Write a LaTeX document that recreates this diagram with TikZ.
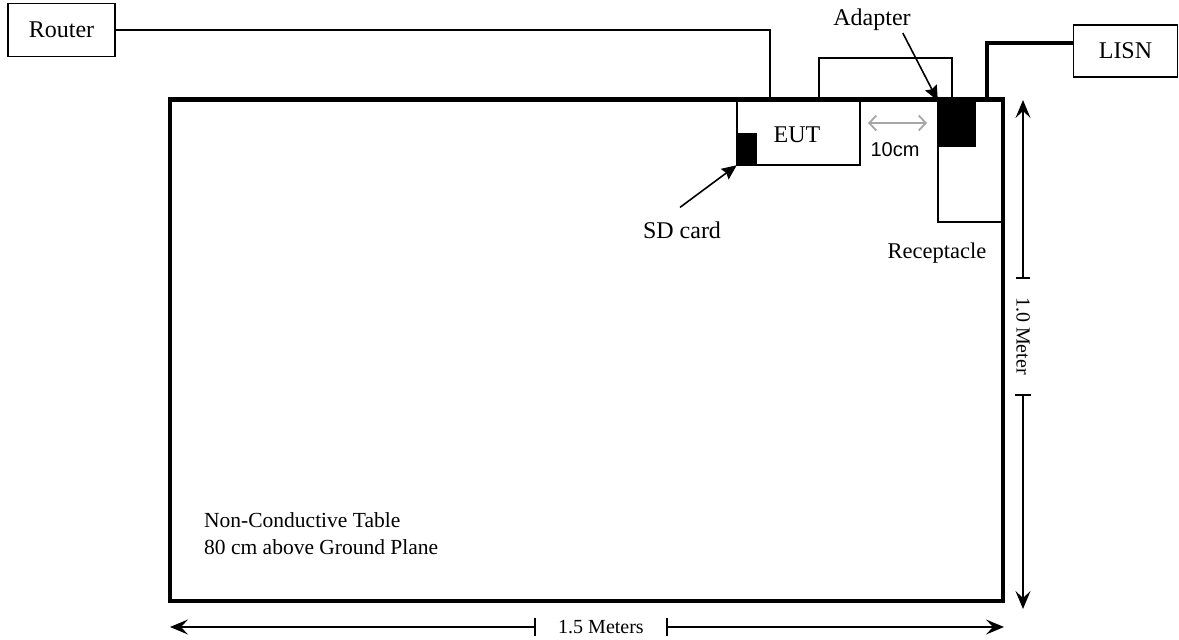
\documentclass[tikz,border=0pt]{standalone}
\usepackage{fontspec}
\setmainfont{Liberation Serif}
\newfontfamily\arialfont{Liberation Sans}
\usetikzlibrary{arrows.meta,calc}
\tikzset{
  box/.style={draw, line width=1.4pt, inner sep=0pt},
  wire/.style={line width=1.4pt},
  thickwire/.style={line width=3.5pt},
  lbl/.style={inner sep=0pt, font=\fontsize{24}{26}\selectfont},
  dimtip/.style={-{Stealth[length=18pt,width=15pt,inset=7pt]}},
  dimline/.style={line width=1.4pt},
  pointer/.style={line width=1.6pt, -{Stealth[length=15pt,width=13pt,inset=2pt]}},
}
\begin{document}
\begin{tikzpicture}[x=1pt,y=-1pt]
\useasboundingbox (0,0) rectangle (1179,640);
% table
\node[draw, line width=3.5pt, inner sep=0pt, minimum width=833pt, minimum height=501pt] (table) at (586.5,350.5) {};
\node[lbl, font=\fontsize{21.5}{27}\selectfont, align=left, anchor=north west] (tabletext) at (204,512) {Non-Conductive Table\\80 cm above Ground Plane};
% router
\node[box, minimum width=107pt, minimum height=53pt, lbl] (router) at (61.5,30) {Router};
% EUT
\node[box, minimum width=123pt, minimum height=65pt] (eut) at (798.5,132.5) {};
\node[lbl] (euttext) at (797,135) {EUT};
\node[fill=black, inner sep=0pt, minimum width=20pt, minimum height=32pt] (sd) at (747,149) {};
% receptacle and adapter
\node[box, minimum width=65pt, minimum height=122pt] (rec) at (970.5,161) {};
\node[fill=black, inner sep=0pt, minimum width=38pt, minimum height=46pt] (adapter) at (957,124) {};
% LISN
\node[box, minimum width=104pt, minimum height=52pt, lbl] (lisn) at (1125.5,51) {LISN};
% wires
\draw[wire] (router.east) -| ($(eut.north)+(-28.5,0)$);
\draw[wire] ($(eut.north)+(20.5,0)$) |- (952,58) coordinate (eutloop) -- ($(adapter.north)+(-5,0)$);
\draw[thickwire] ($(rec.north)+(16.5,0)$) |- ($(lisn.west)+(0,-8)$);
% re-draw table top edge over wires
\draw[line width=3.5pt] (table.north west) -- (table.north east);
% labels
\node[lbl] (adlabel) at (872,20) {Adapter};
\draw[pointer] ($(adlabel.south east)+(-8,2)$) -- (adapter.north west);
\node[lbl] (sdlabel) at (682,230) {SD card};
\draw[pointer] ($(sdlabel.north)+(-2,-14)$) -- (sd.south west);
\node[lbl, font=\fontsize{22.5}{24}\selectfont] (reclabel) at (937,253) {Receptacle};
% 10cm
\node[inner sep=0pt, font=\arialfont\fontsize{20}{22}\selectfont] (tencm) at (895,150) {10cm};
\coordinate (tenL) at (868,123);
\coordinate (tenR) at (927,123);
\draw[gray!70, line width=1.8pt, {Straight Barb[length=7pt,width=15pt]}-{Straight Barb[length=7pt,width=15pt]}] (tenL) -- (tenR);
% vertical dimension
\node[inner sep=0pt, rotate=-90, font=\fontsize{20}{22}\selectfont] (onem) at (1023,336) {1.0 Meter};
\coordinate (vtop) at (1023,100);
\coordinate (vt1) at (1023,278);
\coordinate (vt2) at (1023,395);
\coordinate (vbot) at (1023,609);
\draw[dimline, dimtip] (vt1) -- (vtop);
\draw[dimline, dimtip] (vt2) -- (vbot);
\draw[dimline] ($(vt1)+(-7,0)$) -- ($(vt1)+(7,0)$);
\draw[dimline] ($(vt2)+(-8,0)$) -- ($(vt2)+(8,0)$);
% horizontal dimension
\node[inner sep=0pt, font=\fontsize{20}{22}\selectfont] (onefive) at (601,627) {1.5 Meters};
\coordinate (hleft) at (170,627);
\coordinate (ht1) at (535,627);
\coordinate (ht2) at (667,627);
\coordinate (hright) at (1004,627);
\draw[dimline, dimtip] (ht1) -- (hleft);
\draw[dimline, dimtip] (ht2) -- (hright);
\draw[dimline] ($(ht1)+(0,-9)$) -- ($(ht1)+(0,9)$);
\draw[dimline] ($(ht2)+(0,-9)$) -- ($(ht2)+(0,9)$);
\end{tikzpicture}
\end{document}
